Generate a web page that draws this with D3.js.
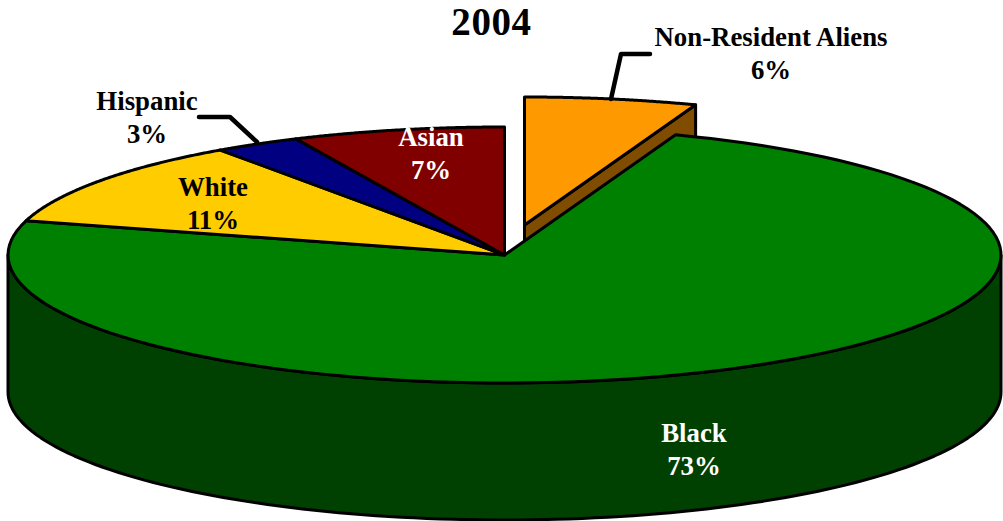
<!DOCTYPE html>
<html><head><meta charset="utf-8">
<script src="https://cdn.jsdelivr.net/npm/d3@7"></script>
<style>html,body{margin:0;padding:0;background:#fff}svg{display:block}
text{font-family:"Liberation Serif",serif;font-weight:bold;text-anchor:middle}</style>
</head><body><div id="c"></div>
<script>
const title = "2004";
const categories = ["Non-Resident Aliens","Black","White","Hispanic","Asian"];
const shares = [5.6,73.7,11.0,2.8,6.9];
const percentLabels = ["6%","73%","11%","3%","7%"];
const topColors = ["#FF9900","#008000","#FFCC00","#000080","#800000"];
const sideColors = ["#804D00","#004000","#806600","#000040","#400000"];
const labelX = [771,694,213,147,431];
const labelY = [37,433,187,101,137];
const labelFill = ["#000","#fff","#000","#000","#fff"];
const leaders = {0:[[650,54],[621,54],[611,99]],3:[[199,117],[230,117],[257,142]]};

const W=1003,H=521,cx=504.5,cy=255,rx=496.5,ry=128,depth=137,explodeX=20,explodeY=-30;
const svg=d3.select("#c").append("svg").attr("width",W).attr("height",H);
const arcs=d3.pie().sort(null).value(d=>d)(shares);
const line=d3.line();
const ox=i=>i===0?explodeX:0, oy=i=>i===0?explodeY:0;
const pt=(a,i,dz=0)=>[cx+ox(i)+rx*Math.sin(a),cy+oy(i)-ry*Math.cos(a)+dz];
const sample=(a0,a1,i,dz=0)=>d3.range(0,121).map(k=>pt(a0+(a1-a0)*k/120,i,dz));
const draw=(pts,fill,sw=3)=>svg.append("path").attr("d",line(pts)+"Z").attr("fill",fill)
  .attr("stroke","#000").attr("stroke-width",sw).attr("stroke-linejoin","round");

const e=arcs[0];
draw([[cx+ox(0),cy+oy(0)],pt(e.endAngle,0),pt(e.endAngle,0,depth),[cx+ox(0),cy+oy(0)+depth]],sideColors[0]);

const wall=sample(Math.PI/2,3*Math.PI/2,1,depth);
const wallTop=sample(3*Math.PI/2,Math.PI/2,1);
draw(wall.concat(wallTop),sideColors[1]);

arcs.forEach((d,i)=>{
  draw([[cx+ox(i),cy+oy(i)]].concat(sample(d.startAngle,d.endAngle,i)),topColors[i]);
});

Object.entries(leaders).forEach(([k,p])=>{
  svg.append("path").attr("d",line(p)).attr("fill","none").attr("stroke","#000")
    .attr("stroke-width",4.5).attr("stroke-linecap","round").attr("stroke-linejoin","round");
});

svg.append("text").attr("x",491.5).attr("y",35).attr("font-size",39).attr("letter-spacing",0.6).text(title);
categories.forEach((c,i)=>{
  const t=svg.append("text").attr("font-size",26.8).attr("fill",labelFill[i]);
  t.append("tspan").attr("x",labelX[i]).attr("y",labelY[i]+9).text(c);
  t.append("tspan").attr("x",labelX[i]).attr("y",labelY[i]+42).text(percentLabels[i]);
});
</script></body></html>
